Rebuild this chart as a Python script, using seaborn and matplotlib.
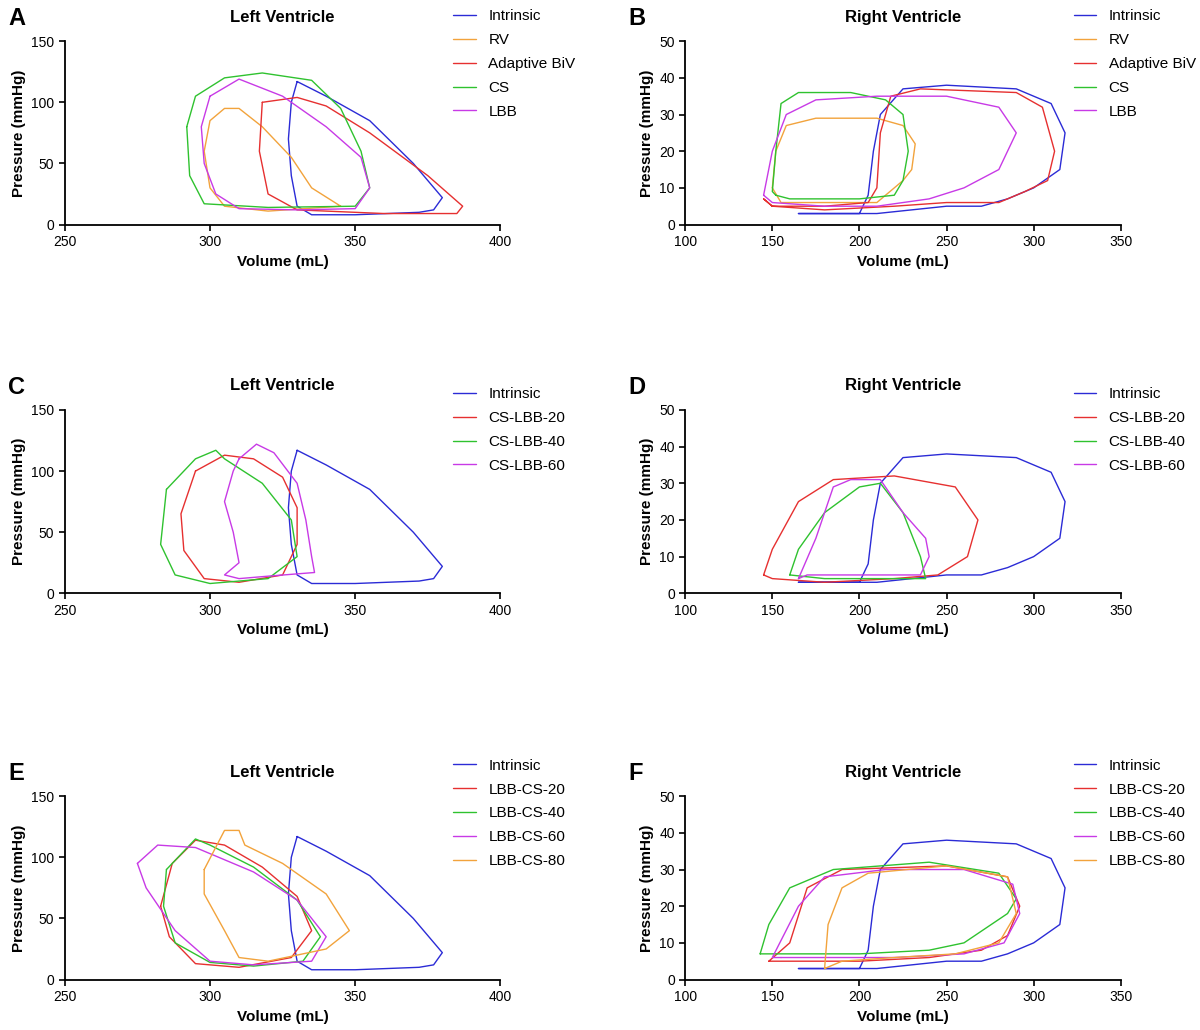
import matplotlib.pyplot as plt
import pandas as pd
import seaborn as sns

sns.set_style('ticks')
plt.rcParams['font.family'] = ['Liberation Sans', 'DejaVu Sans']
plt.rcParams['text.color'] = 'black'
plt.rcParams['axes.labelcolor'] = 'black'
plt.rcParams['xtick.color'] = 'black'
plt.rcParams['ytick.color'] = 'black'
plt.rcParams['axes.edgecolor'] = 'black'

colors = {'blue': '#2b2bd6', 'orange': '#f2a33c', 'red': '#e63030',
          'green': '#2fc22f', 'purple': '#c83ae6'}

# ---- Left ventricle loops (volume mL, pressure mmHg)
lv_intrinsic_x = [330, 340, 355, 370, 380, 377, 372, 350, 335, 330, 328, 327, 328, 330]
lv_intrinsic_y = [117, 105, 85, 50, 22, 12, 10, 8, 8, 15, 40, 70, 100, 117]

lv_rv_x = [345, 320, 305, 300, 298, 300, 305, 310, 318, 328, 335, 345]
lv_rv_y = [15, 11, 15, 30, 60, 85, 95, 95, 80, 55, 30, 15]
lv_biv_x = [318, 317, 320, 330, 360, 385, 387, 375, 355, 340, 330, 318]
lv_biv_y = [100, 60, 25, 12, 9, 9, 15, 40, 75, 97, 104, 100]
lv_cs_x = [292, 295, 305, 318, 335, 345, 352, 355, 350, 320, 298, 293, 292]
lv_cs_y = [80, 105, 120, 124, 118, 95, 60, 30, 15, 14, 17, 40, 80]
lv_lbb_x = [300, 310, 325, 340, 352, 355, 350, 330, 310, 302, 298, 297, 300]
lv_lbb_y = [105, 119, 105, 80, 55, 30, 13, 12, 13, 25, 50, 80, 105]

lv_cslbb20_x = [295, 305, 315, 325, 330, 330, 325, 310, 298, 291, 290, 295]
lv_cslbb20_y = [100, 113, 110, 95, 70, 40, 15, 9, 12, 35, 65, 100]
lv_cslbb40_x = [285, 295, 302, 305, 318, 328, 330, 320, 300, 288, 283, 285]
lv_cslbb40_y = [85, 110, 117, 110, 90, 60, 30, 12, 8, 15, 40, 85]
lv_cslbb60_x = [310, 316, 322, 330, 333, 335, 336, 320, 310, 305, 310, 308, 305, 308, 310]
lv_cslbb60_y = [110, 122, 115, 90, 60, 30, 17, 14, 12, 15, 25, 50, 75, 100, 110]

lv_lbbcs20_x = [283, 287, 295, 305, 318, 330, 335, 328, 310, 295, 286, 283]
lv_lbbcs20_y = [60, 95, 114, 110, 92, 68, 40, 18, 10, 13, 35, 60]
lv_lbbcs40_x = [285, 295, 300, 315, 330, 338, 332, 315, 300, 288, 284, 285]
lv_lbbcs40_y = [90, 115, 110, 92, 65, 35, 15, 11, 14, 30, 60, 90]
lv_lbbcs60_x = [275, 282, 295, 315, 330, 340, 335, 315, 300, 288, 278, 275]
lv_lbbcs60_y = [95, 110, 108, 88, 65, 35, 15, 12, 15, 40, 75, 95]
lv_lbbcs80_x = [298, 305, 310, 312, 325, 340, 348, 340, 320, 310, 305, 298, 298]
lv_lbbcs80_y = [90, 122, 122, 110, 95, 70, 40, 25, 15, 18, 40, 70, 90]

# ---- Right ventricle loops
rv_intrinsic_x = [165, 200, 205, 208, 212, 225, 250, 290, 310, 318, 315, 300, 285, 270, 250, 230, 210, 165]
rv_intrinsic_y = [3, 3, 8, 20, 30, 37, 38, 37, 33, 25, 15, 10, 7, 5, 5, 4, 3, 3]

rv_rv_x = [150, 152, 158, 175, 210, 225, 232, 230, 225, 215, 210, 180, 155, 150]
rv_rv_y = [10, 20, 27, 29, 29, 27, 22, 15, 12, 8, 6, 6, 6, 10]
rv_biv_x = [150, 180, 205, 210, 212, 218, 235, 290, 305, 312, 308, 295, 280, 250, 220, 180, 150, 145, 150]
rv_biv_y = [5, 5, 6, 10, 25, 35, 37, 36, 32, 20, 12, 9, 6, 6, 5, 4, 5, 7, 5]
rv_cs_x = [152, 150, 152, 155, 165, 195, 215, 225, 228, 225, 220, 200, 160, 152]
rv_cs_y = [8, 9, 20, 33, 36, 36, 34, 30, 20, 12, 8, 7, 7, 8]
rv_lbb_x = [145, 150, 158, 175, 210, 250, 280, 290, 280, 260, 240, 210, 180, 150, 145]
rv_lbb_y = [8, 20, 30, 34, 35, 35, 32, 25, 15, 10, 7, 5, 5, 6, 8]

rv_cslbb20_x = [145, 150, 165, 185, 220, 255, 268, 262, 245, 220, 180, 150, 145]
rv_cslbb20_y = [5, 12, 25, 31, 32, 29, 20, 10, 5, 4, 3, 4, 5]
rv_cslbb40_x = [160, 165, 180, 200, 212, 225, 235, 238, 210, 180, 160]
rv_cslbb40_y = [5, 12, 22, 29, 30, 22, 10, 4, 4, 4, 5]
rv_cslbb60_x = [165, 175, 185, 195, 212, 225, 238, 240, 235, 210, 190, 170, 165]
rv_cslbb60_y = [4, 15, 29, 31, 31, 22, 15, 10, 5, 5, 5, 5, 4]

rv_lbbcs20_x = [148, 160, 170, 190, 250, 285, 292, 285, 270, 240, 200, 160, 148]
rv_lbbcs20_y = [5, 10, 25, 30, 31, 28, 20, 12, 8, 6, 5, 5, 5]
rv_lbbcs40_x = [143, 148, 160, 185, 240, 280, 290, 285, 260, 240, 200, 160, 143]
rv_lbbcs40_y = [7, 15, 25, 30, 32, 29, 22, 18, 10, 8, 7, 7, 7]
rv_lbbcs60_x = [155, 150, 165, 180, 215, 260, 288, 292, 283, 260, 220, 170, 155]
rv_lbbcs60_y = [6, 6, 20, 28, 30, 30, 26, 18, 10, 7, 6, 6, 6]
rv_lbbcs80_x = [180, 182, 190, 205, 250, 285, 290, 280, 255, 220, 190, 180]
rv_lbbcs80_y = [3, 15, 25, 29, 31, 28, 18, 10, 7, 6, 5, 3]

panels = [
    ('A', 'Left Ventricle', 'lv', [
        ('Intrinsic', lv_intrinsic_x, lv_intrinsic_y, 'blue'),
        ('RV', lv_rv_x, lv_rv_y, 'orange'),
        ('Adaptive BiV', lv_biv_x, lv_biv_y, 'red'),
        ('CS', lv_cs_x, lv_cs_y, 'green'),
        ('LBB', lv_lbb_x, lv_lbb_y, 'purple')]),
    ('B', 'Right Ventricle', 'rv', [
        ('Intrinsic', rv_intrinsic_x, rv_intrinsic_y, 'blue'),
        ('RV', rv_rv_x, rv_rv_y, 'orange'),
        ('Adaptive BiV', rv_biv_x, rv_biv_y, 'red'),
        ('CS', rv_cs_x, rv_cs_y, 'green'),
        ('LBB', rv_lbb_x, rv_lbb_y, 'purple')]),
    ('C', 'Left Ventricle', 'lv', [
        ('Intrinsic', lv_intrinsic_x, lv_intrinsic_y, 'blue'),
        ('CS-LBB-20', lv_cslbb20_x, lv_cslbb20_y, 'red'),
        ('CS-LBB-40', lv_cslbb40_x, lv_cslbb40_y, 'green'),
        ('CS-LBB-60', lv_cslbb60_x, lv_cslbb60_y, 'purple')]),
    ('D', 'Right Ventricle', 'rv', [
        ('Intrinsic', rv_intrinsic_x, rv_intrinsic_y, 'blue'),
        ('CS-LBB-20', rv_cslbb20_x, rv_cslbb20_y, 'red'),
        ('CS-LBB-40', rv_cslbb40_x, rv_cslbb40_y, 'green'),
        ('CS-LBB-60', rv_cslbb60_x, rv_cslbb60_y, 'purple')]),
    ('E', 'Left Ventricle', 'lv', [
        ('Intrinsic', lv_intrinsic_x, lv_intrinsic_y, 'blue'),
        ('LBB-CS-20', lv_lbbcs20_x, lv_lbbcs20_y, 'red'),
        ('LBB-CS-40', lv_lbbcs40_x, lv_lbbcs40_y, 'green'),
        ('LBB-CS-60', lv_lbbcs60_x, lv_lbbcs60_y, 'purple'),
        ('LBB-CS-80', lv_lbbcs80_x, lv_lbbcs80_y, 'orange')]),
    ('F', 'Right Ventricle', 'rv', [
        ('Intrinsic', rv_intrinsic_x, rv_intrinsic_y, 'blue'),
        ('LBB-CS-20', rv_lbbcs20_x, rv_lbbcs20_y, 'red'),
        ('LBB-CS-40', rv_lbbcs40_x, rv_lbbcs40_y, 'green'),
        ('LBB-CS-60', rv_lbbcs60_x, rv_lbbcs60_y, 'purple'),
        ('LBB-CS-80', rv_lbbcs80_x, rv_lbbcs80_y, 'orange')]),
]

fig = plt.figure(figsize=(12, 10.3), dpi=100)
lefts = [0.054, 0.571]
bottoms = [0.782, 0.424, 0.049]
legend_y = [1.25, 1.2, 1.28]

for i, (letter, title, kind, curves) in enumerate(panels):
    row, col = divmod(i, 2)
    ax = fig.add_axes([lefts[col], bottoms[row], 0.363, 0.178])
    rows = []
    for name, xs, ys, c in curves:
        for k, (x, y) in enumerate(zip(xs, ys)):
            rows.append({'curve': name, 'order': k, 'x': x, 'y': y})
    df = pd.DataFrame(rows)
    pal = {name: colors[c] for name, _, _, c in curves}
    sns.lineplot(data=df, x='x', y='y', hue='curve', palette=pal, sort=False,
                 estimator=None, units='curve', lw=1, ax=ax)
    if kind == 'lv':
        ax.set_xlim(250, 400); ax.set_ylim(0, 150)
        ax.set_xticks([250, 300, 350, 400]); ax.set_yticks([0, 50, 100, 150])
    else:
        ax.set_xlim(100, 350); ax.set_ylim(0, 50)
        ax.set_xticks(range(100, 351, 50)); ax.set_yticks(range(0, 51, 10))
    ax.set_xlabel('Volume (mL)', fontsize=11, fontweight='bold')
    ax.set_ylabel('Pressure (mmHg)', fontsize=11, fontweight='bold')
    ax.set_title(title, fontsize=12, fontweight='bold', pad=14)
    ax.tick_params(labelsize=10, width=1.2, length=4)
    for s in ax.spines.values():
        s.set_linewidth(1.3)
    sns.despine(ax=ax)
    ax.legend(loc='upper left', bbox_to_anchor=(0.86, legend_y[row]), frameon=False,
              fontsize=11, handlelength=1.5, labelspacing=0.65)
    fig.text(lefts[col] - 0.047, bottoms[row] + 0.2, letter, fontsize=17,
             fontweight='bold', va='center')

plt.savefig('out.png', dpi=100)
